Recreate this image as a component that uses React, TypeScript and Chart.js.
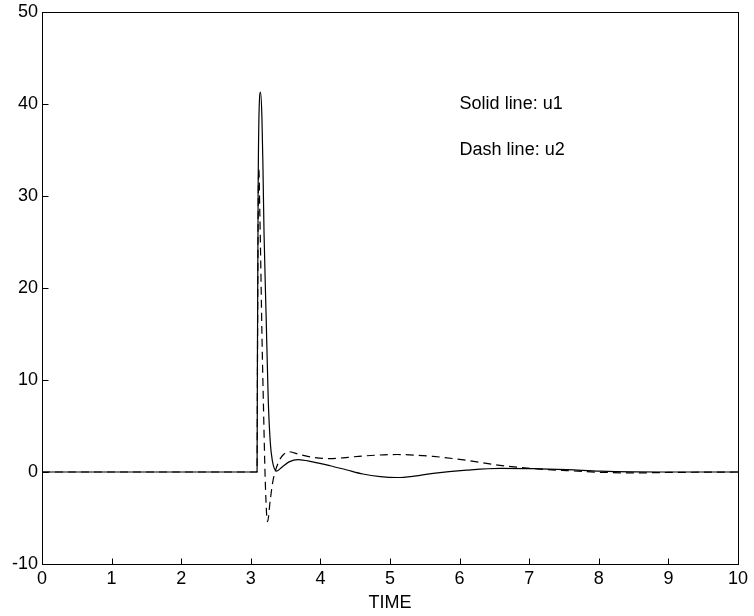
import React, { useEffect, useRef } from "react";
import { Chart, registerables } from "chart.js";

Chart.register(...registerables);

// u1 (solid line)
const u1Time = [0, 3.0, 3.09, 3.095, 3.105, 3.12, 3.14, 3.16, 3.175, 3.19, 3.22, 3.25, 3.28, 3.31, 3.37, 3.45, 3.55, 3.68, 3.89, 4.14, 4.38, 4.61, 4.86, 5.1, 5.35, 5.62, 6.1, 6.58, 7.06, 7.54, 8.02, 8.5, 9.0, 10];
const u1Values = [0, 0, 0, 12, 30, 39.5, 41.3, 38.5, 33, 26, 17, 8, 3.2, 1.2, 0.1, 0.55, 1.1, 1.35, 1.1, 0.68, 0.22, -0.22, -0.5, -0.6, -0.45, -0.15, 0.2, 0.4, 0.37, 0.26, 0.1, 0.02, 0, 0];

// u2 (dashed line)
const u2Time = [0, 3.0, 3.09, 3.095, 3.105, 3.115, 3.13, 3.14, 3.16, 3.18, 3.21, 3.24, 3.28, 3.32, 3.4, 3.47, 3.55, 3.7, 3.89, 4.14, 4.4, 4.61, 5.1, 5.46, 5.62, 6.1, 6.58, 7.06, 7.54, 8.02, 8.5, 8.98, 10];
const u2Values = [0, 0, 0, 10, 27, 33, 28, 24, 15, 7.8, -1.5, -5.4, -3, -0.9, 1.1, 1.9, 2.2, 1.9, 1.6, 1.45, 1.6, 1.74, 1.9, 1.78, 1.7, 1.27, 0.73, 0.37, 0.15, -0.03, -0.1, -0.05, 0];

// axis ticks
const xTicks = [0, 1, 2, 3, 4, 5, 6, 7, 8, 9, 10];
const yTicks = [-10, 0, 10, 20, 30, 40, 50];
const xTitle = "TIME";

// text annotations
const noteTexts = ["Solid line: u1", "Dash line: u2"];
const noteX = [6, 6];
const noteY = [40, 35];

const FONT = "'Liberation Sans', Arial, Helvetica, sans-serif";

const framePlugin = {
  id: "frame",
  afterDraw(chart: any) {
    const { ctx, chartArea } = chart;
    const xs = chart.scales.x;
    const ys = chart.scales.y;
    ctx.save();
    ctx.strokeStyle = "#000";
    ctx.lineWidth = 1;
    const l = Math.round(chartArea.left) + 0.5;
    const r = Math.round(chartArea.right) + 0.5;
    const t = Math.round(chartArea.top) + 0.5;
    const b = Math.round(chartArea.bottom) + 0.5;
    ctx.strokeRect(l, t, r - l, b - t);
    const tl = 6;
    ctx.beginPath();
    xTicks.forEach((v) => {
      const px = Math.round(xs.getPixelForValue(v)) + 0.5;
      ctx.moveTo(px, b);
      ctx.lineTo(px, b - tl);
    });
    yTicks.forEach((v) => {
      const py = Math.round(ys.getPixelForValue(v)) + 0.5;
      ctx.moveTo(l, py);
      ctx.lineTo(l + tl, py);
    });
    ctx.stroke();
    ctx.fillStyle = "#000";
    ctx.font = `18px ${FONT}`;
    ctx.textAlign = "left";
    ctx.textBaseline = "middle";
    noteTexts.forEach((txt, i) => {
      ctx.fillText(txt, xs.getPixelForValue(noteX[i]), ys.getPixelForValue(noteY[i]));
    });
    ctx.restore();
  },
};

export default function App() {
  const ref = useRef<HTMLCanvasElement | null>(null);
  useEffect(() => {
    if (!ref.current) return;
    const chart = new Chart(ref.current, {
      type: "line",
      data: {
        datasets: [
          {
            label: "u1",
            data: u1Time.map((t, i) => ({ x: t, y: u1Values[i] })),
            borderColor: "#000",
            borderWidth: 1.2,
            pointRadius: 0,
            cubicInterpolationMode: "monotone",
            fill: false,
          },
          {
            label: "u2",
            data: u2Time.map((t, i) => ({ x: t, y: u2Values[i] })),
            borderColor: "#000",
            borderWidth: 1.2,
            borderDash: [8, 5],
            pointRadius: 0,
            cubicInterpolationMode: "monotone",
            fill: false,
          },
        ],
      },
      options: {
        responsive: false,
        animation: false,
        layout: { padding: { left: 0, right: 16, top: 12, bottom: 0 } },
        plugins: { legend: { display: false }, tooltip: { enabled: false } },
        scales: {
          x: {
            type: "linear",
            min: 0,
            max: 10,
            afterBuildTicks: (s: any) => {
              s.ticks = xTicks.map((v) => ({ value: v }));
            },
            afterFit: (s: any) => {
              s.height = 52;
              s.paddingLeft = 0;
              s.paddingRight = 0;
            },
            grid: { display: false, drawTicks: false },
            border: { display: false },
            ticks: { color: "#000", font: { family: FONT, size: 18 }, padding: 4, maxRotation: 0, autoSkip: false },
            title: { display: true, text: xTitle, color: "#000", font: { family: FONT, size: 18 }, padding: { top: 0, bottom: 2 } },
          },
          y: {
            type: "linear",
            min: -10,
            max: 50,
            afterBuildTicks: (s: any) => {
              s.ticks = yTicks.map((v) => ({ value: v }));
            },
            afterFit: (s: any) => {
              s.width = 42;
              s.paddingTop = 0;
              s.paddingBottom = 0;
            },
            grid: { display: false, drawTicks: false },
            border: { display: false },
            ticks: { color: "#000", font: { family: FONT, size: 18 }, padding: 4, autoSkip: false },
          },
        },
      },
      plugins: [framePlugin],
    } as any);
    return () => chart.destroy();
  }, []);
  return (
    <div style={{ position: "absolute", left: 0, top: 0, width: 754, height: 616, background: "#fff" }}>
      <canvas ref={ref} width={754} height={616} />
    </div>
  );
}
